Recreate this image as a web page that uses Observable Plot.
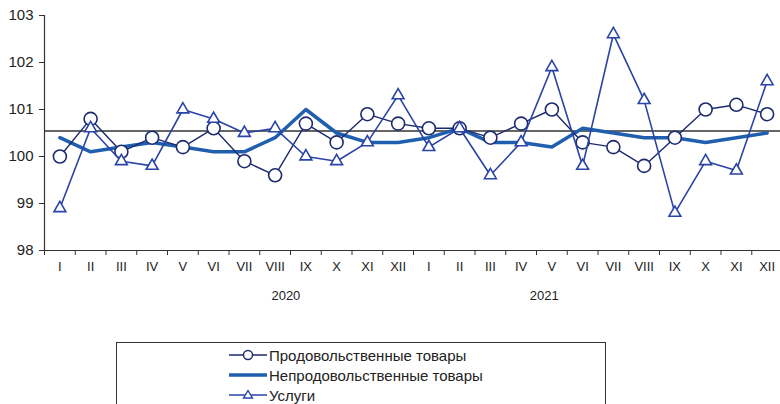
<!DOCTYPE html>
<html>
<head>
<meta charset="utf-8">
<script src="https://cdn.jsdelivr.net/npm/d3@7"></script>
<script src="https://cdn.jsdelivr.net/npm/@observablehq/plot@0.6"></script>
<style>
  html, body { margin: 0; padding: 0; background: #fff; }
  body { width: 780px; height: 404px; overflow: hidden; font-family: "Liberation Sans", Arial, sans-serif; }
  #chart svg { display: block; }
  .legend { position: absolute; left: 116px; top: 342px; width: 490px; height: 80px; border: 1px solid #333; box-sizing: border-box; }
  .legend .row { position: absolute; left: 112px; height: 20px; display: flex; align-items: center; font-size: 15px; color: #222; }
  .legend svg { display: block; margin-right: 2px; }
</style>
</head>
<body>
<div id="chart"></div>
<div class="legend" id="legend"></div>
<script>
const months = ["I","II","III","IV","V","VI","VII","VIII","IX","X","XI","XII"];
const years = ["2020", "2021"];
const yearTickPos = [7.35, 15.75];
const seriesNames = ["Продовольственные товары", "Непродовольственные товары", "Услуги"];
const food = [100.0,100.8,100.1,100.4,100.2,100.6,99.9,99.6,100.7,100.3,100.9,100.7,
              100.6,100.6,100.4,100.7,101.0,100.3,100.2,99.8,100.4,101.0,101.1,100.9];
const nonFood = [100.4,100.1,100.2,100.3,100.2,100.1,100.1,100.4,101.0,100.5,100.3,100.3,
                 100.4,100.6,100.3,100.3,100.2,100.6,100.5,100.4,100.4,100.3,100.4,100.5];
const services = [98.9,100.6,99.9,99.8,101.0,100.8,100.5,100.6,100.0,99.9,100.3,101.3,
                  100.2,100.6,99.6,100.3,101.9,99.8,102.6,101.2,98.8,99.9,99.7,101.6];
const refLevel = [100.54];
const yTicks = [98, 99, 100, 101, 102, 103];

const cFood = "#1c2a6e", cNon = "#1f5fae", cServ = "#2a43a6";

const idx = d3.range(food.length);
const foodData = idx.map(i => ({i, v: food[i]}));
const nonData = idx.map(i => ({i, v: nonFood[i]}));
const servData = idx.map(i => ({i, v: services[i]}));

const plot = Plot.plot({
  width: 780,
  height: 330,
  marginTop: 15,
  marginBottom: 80,
  marginLeft: 44,
  marginRight: -2,
  style: {fontFamily: "Liberation Sans, Arial, sans-serif", color: "#222", background: "#fff"},
  x: {type: "linear", domain: [-0.5, idx.length - 0.5]},
  y: {domain: [98, 103]},
  marks: [
    Plot.axisY({ticks: yTicks, tickFormat: d => String(d), tickSize: 5, tickPadding: 6, fontSize: 15, label: null, stroke: "#333"}),
    Plot.axisX({ticks: d3.range(idx.length + 1).map(i => i - 0.5), tickFormat: () => "", tickSize: 5, label: null, stroke: "#333"}),
    Plot.axisX({ticks: idx, tickFormat: i => months[i % 12], tickSize: 0, tickPadding: 11, fontSize: 13, label: null, fill: "#222"}),
    Plot.axisX({ticks: yearTickPos, tickFormat: (d, k) => years[k], tickSize: 0, tickPadding: 40, fontSize: 13, label: null, fill: "#222"}),
    Plot.ruleX([-0.5], {stroke: "#333", strokeWidth: 1.2}),
    Plot.ruleY([98], {stroke: "#333", strokeWidth: 1.2}),
    Plot.ruleY(refLevel, {stroke: "#333", strokeWidth: 1.5}),
    Plot.line(nonData, {x: "i", y: "v", stroke: cNon, strokeWidth: 3.5}),
    Plot.line(foodData, {x: "i", y: "v", stroke: cFood, strokeWidth: 1.4}),
    Plot.dot(foodData, {x: "i", y: "v", r: 6.5, stroke: cFood, fill: "#fff", strokeWidth: 1.6}),
    Plot.line(servData, {x: "i", y: "v", stroke: cServ, strokeWidth: 1.6}),
    Plot.dot(servData, {x: "i", y: "v", symbol: "triangle", r: 4.4, stroke: cServ, fill: "#fff", strokeWidth: 1.6})
  ]
});
document.getElementById("chart").appendChild(plot);

// Legend
const legend = document.getElementById("legend");
const legendSpecs = [
  {name: seriesNames[0], color: cFood, w: 1.4, sym: "circle"},
  {name: seriesNames[1], color: cNon, w: 3.5, sym: null},
  {name: seriesNames[2], color: cServ, w: 1.6, sym: "triangle"}
];
legendSpecs.forEach((s, k) => {
  const row = document.createElement("div");
  row.className = "row";
  row.style.top = (2 + k * 20) + "px";
  let symSvg = "";
  if (s.sym === "circle") symSvg = `<circle cx="19" cy="10" r="4.5" fill="#fff" stroke="${s.color}" stroke-width="1.4"/>`;
  if (s.sym === "triangle") symSvg = `<path d="M19,5.5 L23.5,13 L14.5,13 Z" fill="#fff" stroke="${s.color}" stroke-width="1.4"/>`;
  row.innerHTML = `<svg width="38" height="20"><line x1="0" x2="38" y1="10" y2="10" stroke="${s.color}" stroke-width="${s.w}"/>${symSvg}</svg><span>${s.name}</span>`;
  legend.appendChild(row);
});
</script>
</body>
</html>
